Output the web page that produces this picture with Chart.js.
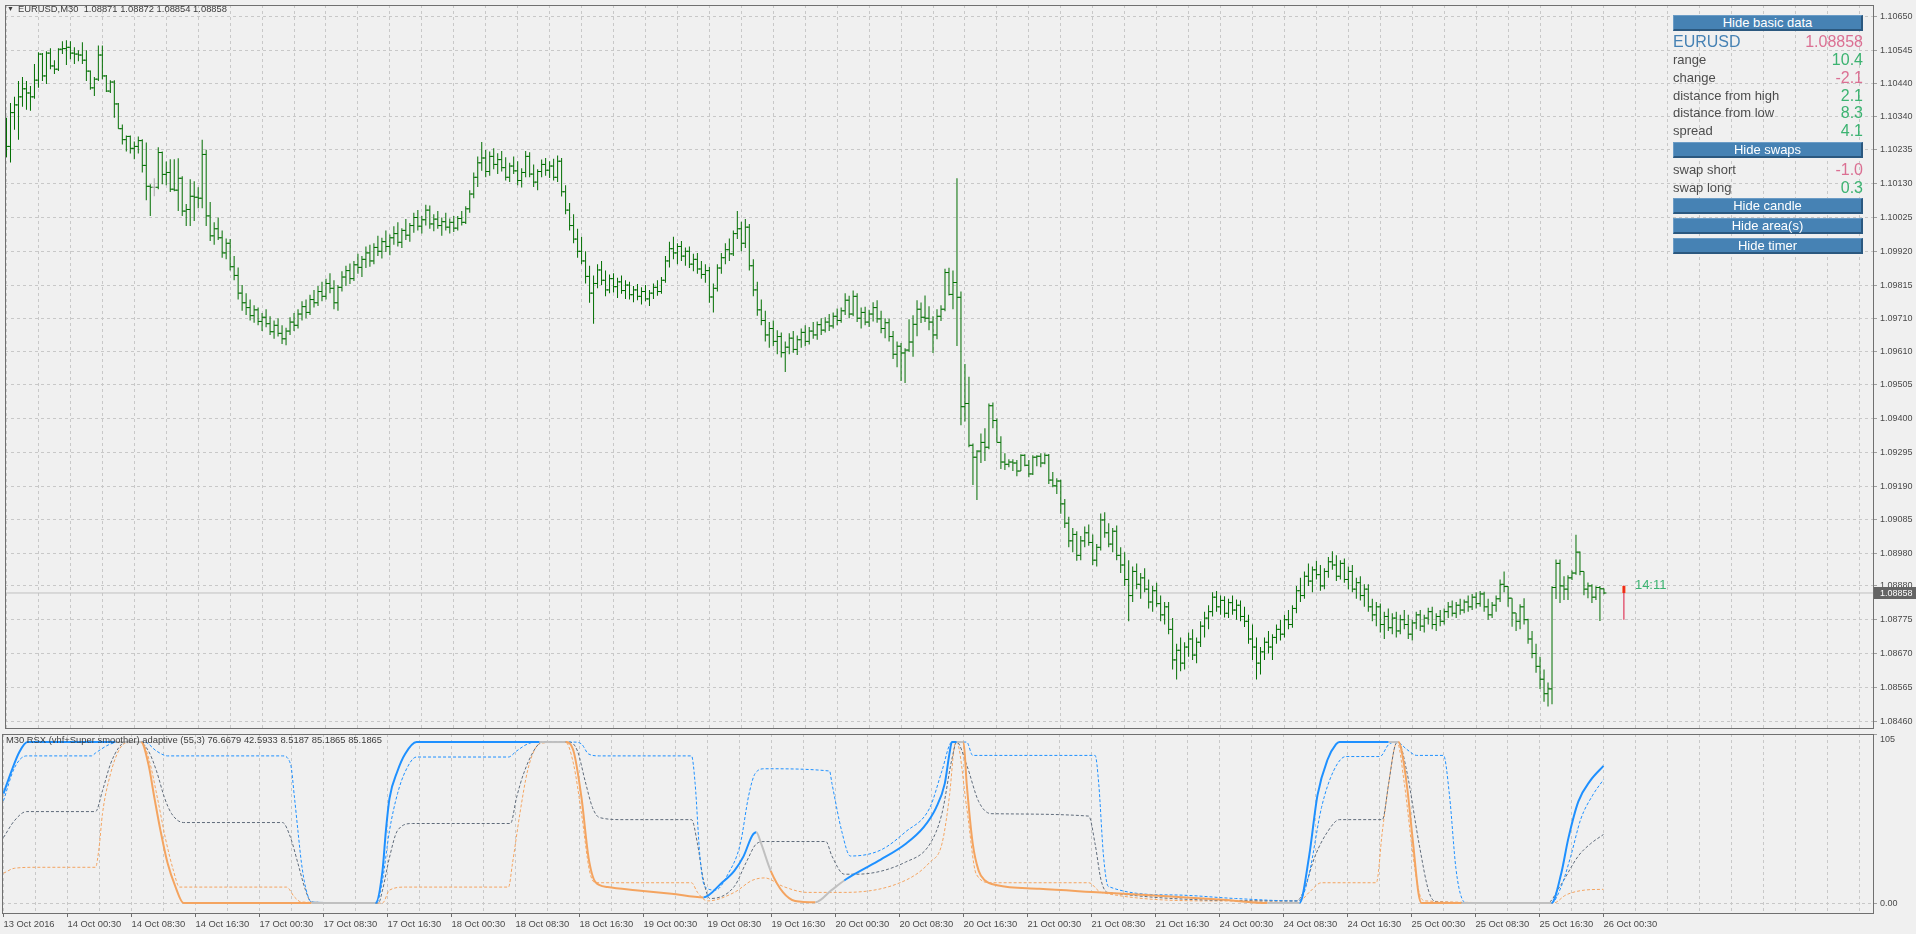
<!DOCTYPE html>
<html>
<head>
<meta charset="utf-8">
<title>EURUSD,M30</title>
<script src="https://cdn.jsdelivr.net/npm/chart.js"></script>
<style>
  html, body { margin: 0; padding: 0; background: #f0f0f0; overflow: hidden; }
  #chart-window { position: relative; width: 1916px; height: 934px; background: #f0f0f0; font-family: 'Liberation Sans', Arial, sans-serif; }
  #price-chart-id { position: absolute; left: 0; top: 0; }
  #rsx-chart-id { position: absolute; left: 0; top: 733px; }
  .chart-caption { position: absolute; font-size: 9.4px; line-height: 11px; color: #3c3c3c; white-space: pre; }
  .mt-btn { position: absolute; left: 1673px; width: 190px; height: 16px; box-sizing: border-box; background: #4682b4;
            border-top: 1px solid #6b9cc6; border-left: 1px solid #6b9cc6; border-right: 2px solid #2b587f; border-bottom: 2px solid #2b587f;
            color: #fff; font-size: 13px; line-height: 13px; text-align: center; }
  .mt-row { position: absolute; left: 1673px; width: 190px; height: 18px; line-height: 18px; font-size: 13px; color: #4d4d4d; }
  .mt-row .mt-val { position: absolute; right: 0; top: 0; font-size: 16px; }
  .mt-symbol { font-size: 16px; color: #4682b4; }
  .mt-symbol .mt-val { font-size: 16px; }
  .green { color: #3cb371; }
  .pink { color: #db7093; }
</style>
</head>
<body>
<div id="chart-window">
  <canvas id="price-chart-id" width="1916" height="733"></canvas>
  <canvas id="rsx-chart-id" width="1916" height="201"></canvas>

  <div class="chart-caption" style="left:7px; top:3px; font-size:7px;">▼</div>
  <div class="chart-caption" style="left:18px; top:3px;">EURUSD,M30  1.08871 1.08872 1.08854 1.08858</div>
  <div class="chart-caption" style="left:6px; top:734px;">M30 RSX (vhf+Super smoother) adaptive (55,3) 76.6679 42.5933 8.5187 85.1865 85.1865</div>

  <div class="mt-btn" style="top:15px">Hide basic data</div>
  <div class="mt-row mt-symbol" style="top:33px">EURUSD<span class="mt-val pink">1.08858</span></div>
  <div class="mt-row" style="top:51px">range<span class="mt-val green">10.4</span></div>
  <div class="mt-row" style="top:69px">change<span class="mt-val pink">-2.1</span></div>
  <div class="mt-row" style="top:87px">distance from high<span class="mt-val green">2.1</span></div>
  <div class="mt-row" style="top:104px">distance from low<span class="mt-val green">8.3</span></div>
  <div class="mt-row" style="top:122px">spread<span class="mt-val green">4.1</span></div>
  <div class="mt-btn" style="top:142px">Hide swaps</div>
  <div class="mt-row" style="top:161px">swap short<span class="mt-val pink">-1.0</span></div>
  <div class="mt-row" style="top:179px">swap long<span class="mt-val green">0.3</span></div>
  <div class="mt-btn" style="top:198px">Hide candle</div>
  <div class="mt-btn" style="top:218px">Hide area(s)</div>
  <div class="mt-btn" style="top:238px">Hide timer</div>
</div>

<script>
// ===================== PRICE DATA =====================
// M30 bars, prices in points (0.00001) above BASE
const BASE = 1.08;

const barOpen = [
  2290,2246,2351,2375,2400,2425,2412,2400,2452,2533,
  2465,2536,2496,2486,2548,2550,2554,2536,2533,2530,
  2514,2480,2428,2455,2530,2465,2418,2446,2378,2301,
  2267,2277,2240,2246,2264,2187,2122,2119,2119,2227,
  2159,2165,2113,2110,2147,2045,2050,2091,2088,2085,
  2221,2030,1968,1990,1962,1915,1945,1872,1845,1790,
  1760,1745,1720,1738,1702,1715,1695,1670,1690,1665,
  1648,1672,1700,1690,1725,1748,1730,1770,1760,1795,
  1780,1820,1805,1760,1808,1840,1860,1835,1878,1870,
  1895,1915,1890,1932,1920,1950,1935,1962,1975,1948,
  1985,1970,2000,2025,1998,2018,2048,2005,2020,2000,
  2012,1995,2010,1992,2022,2010,2052,2098,2150,2195,
  2210,2168,2215,2190,2205,2180,2150,2185,2170,2140,
  2165,2215,2160,2135,2168,2190,2172,2185,2150,2200,
  2105,2048,2000,1958,1920,1890,1842,1790,1820,1862,
  1830,1800,1835,1810,1825,1798,1815,1785,1800,1780,
  1795,1772,1790,1808,1795,1830,1890,1928,1915,1935,
  1905,1920,1880,1895,1865,1848,1860,1778,1805,1868,
  1900,1925,1912,1975,1990,1945,1995,1875,1800,1738,
  1705,1660,1680,1640,1655,1605,1622,1650,1615,1645,
  1668,1640,1672,1660,1692,1675,1700,1688,1718,1705,
  1735,1768,1725,1780,1712,1730,1700,1725,1745,1710,
  1680,1698,1655,1600,1625,1604,1613,1638,1693,1740,
  1715,1712,1700,1660,1718,1740,1854,1786,1823,1777,
  1437,1447,1317,1280,1299,1326,1311,1440,1394,1326,
  1265,1258,1265,1262,1237,1286,1255,1228,1280,1283,
  1262,1286,1209,1191,1206,1135,1075,1020,1040,975,
  1020,1045,1015,960,1000,1085,1045,1010,1050,975,
  945,900,850,925,885,905,870,830,865,825,
  790,815,745,650,680,640,690,715,665,705,
  755,780,800,845,815,835,795,828,805,820,
  785,770,715,690,640,675,705,690,720,745,
  730,775,760,810,865,850,910,895,930,915,
  880,925,955,945,910,950,900,925,870,890,
  850,870,815,790,815,760,785,750,780,740,
  775,760,730,765,790,755,780,800,760,785,
  770,800,815,795,820,805,830,815,845,825,
  855,815,790,820,840,885,878,842,796,770,
  815,775,715,670,630,590,545,560,875,950,
  880,870,905,920,985,925,870,880,845,875,
  871
];

const barHigh = [
  2335,2381,2400,2449,2462,2449,2434,2502,2539,2536,
  2542,2551,2514,2551,2573,2576,2573,2554,2545,2570,
  2545,2482,2462,2560,2560,2468,2452,2452,2381,2314,
  2280,2280,2261,2277,2268,2258,2128,2147,2243,2230,
  2199,2206,2206,2209,2153,2067,2144,2138,2119,2267,
  2236,2073,2010,2025,1985,1960,1958,1905,1870,1815,
  1790,1770,1752,1745,1728,1740,1718,1705,1712,1690,
  1682,1715,1728,1740,1765,1770,1785,1800,1812,1825,
  1835,1852,1830,1815,1858,1875,1882,1890,1912,1905,
  1935,1940,1945,1968,1962,1985,1972,1998,2010,1992,
  2020,2008,2040,2048,2030,2065,2062,2035,2045,2025,
  2040,2022,2030,2030,2045,2060,2110,2165,2215,2260,
  2235,2230,2240,2225,2232,2212,2195,2215,2200,2178,
  2232,2228,2190,2175,2205,2210,2200,2208,2218,2210,
  2125,2070,2035,1990,1965,1920,1875,1845,1880,1890,
  1860,1848,1852,1838,1845,1830,1825,1812,1818,1808,
  1815,1800,1820,1830,1840,1905,1950,1965,1945,1952,
  1932,1935,1912,1915,1890,1880,1872,1820,1880,1915,
  1945,1960,1985,2045,2012,2020,2005,1895,1825,1770,
  1735,1700,1705,1675,1668,1640,1665,1672,1658,1680,
  1690,1685,1700,1702,1712,1715,1725,1730,1742,1745,
  1790,1782,1798,1790,1745,1748,1738,1762,1768,1735,
  1712,1710,1672,1640,1635,1619,1709,1721,1768,1761,
  1783,1749,1718,1740,1752,1866,1869,1860,2147,1795,
  1570,1530,1323,1302,1354,1370,1447,1450,1400,1345,
  1292,1274,1274,1271,1289,1289,1271,1286,1286,1292,
  1292,1290,1234,1215,1210,1150,1095,1060,1050,1035,
  1065,1071,1040,1010,1105,1109,1075,1060,1068,1000,
  985,960,940,950,920,935,900,880,890,850,
  830,830,780,700,720,705,735,745,720,770,
  800,820,860,864,850,848,840,850,838,835,
  815,790,760,720,690,720,740,730,760,775,
  790,805,820,880,905,925,950,940,958,945,
  935,970,988,975,960,965,940,945,905,910,
  885,885,840,830,825,800,810,795,800,790,
  805,790,775,800,805,790,812,815,795,805,
  810,830,835,830,840,838,850,855,860,864,
  862,840,830,850,900,925,879,842,796,823,
  842,778,740,700,660,620,580,879,962,962,
  910,913,928,1039,987,925,891,885,879,880,
  872
];

const barLow = [
  2212,2196,2298,2267,2369,2360,2357,2394,2428,2449,
  2440,2486,2471,2480,2533,2499,2517,2502,2511,2502,
  2449,2422,2403,2449,2455,2415,2412,2335,2301,2252,
  2230,2224,2206,2224,2165,2079,2030,2091,2113,2128,
  2125,2104,2107,2045,2030,1999,1999,2014,2054,2054,
  1999,1952,1940,1955,1900,1895,1860,1830,1770,1735,
  1722,1705,1698,1690,1672,1684,1660,1648,1655,1632,
  1628,1660,1672,1680,1705,1712,1722,1745,1750,1765,
  1770,1790,1740,1735,1795,1812,1818,1828,1850,1840,
  1868,1872,1880,1905,1898,1918,1908,1940,1935,1930,
  1955,1950,1978,1985,1975,2000,1990,1982,1990,1968,
  1985,1975,1980,1985,2000,2005,2040,2085,2120,2170,
  2150,2155,2175,2160,2168,2140,2135,2160,2125,2118,
  2150,2150,2120,2110,2150,2155,2148,2140,2135,2090,
  2035,1985,1945,1900,1880,1820,1760,1695,1805,1815,
  1780,1790,1792,1775,1788,1772,1770,1762,1768,1755,
  1765,1750,1772,1782,1788,1822,1870,1895,1880,1890,
  1875,1868,1858,1850,1835,1822,1760,1730,1795,1850,
  1880,1890,1905,1958,1920,1930,1860,1780,1720,1690,
  1640,1620,1625,1600,1590,1545,1600,1605,1598,1620,
  1625,1630,1648,1645,1660,1668,1672,1680,1690,1698,
  1722,1712,1718,1700,1680,1690,1685,1702,1698,1665,
  1650,1640,1585,1560,1517,1511,1607,1592,1656,1697,
  1700,1675,1604,1647,1703,1734,1783,1740,1626,1379,
  1391,1311,1194,1147,1262,1268,1305,1370,1326,1243,
  1240,1249,1237,1221,1237,1252,1218,1225,1252,1249,
  1258,1197,1187,1166,1104,1060,1000,985,958,960,
  1000,1005,945,940,990,1030,1000,985,960,920,
  880,770,830,870,840,860,810,800,815,770,
  760,730,620,589,615,620,660,650,640,690,
  720,745,785,800,790,782,780,790,775,770,
  752,700,650,589,605,650,670,650,700,710,
  720,745,750,795,830,840,880,860,900,865,
  870,905,930,895,900,890,870,860,840,835,
  815,800,770,755,735,715,740,730,720,730,
  745,715,710,745,740,735,760,745,740,755,
  760,780,785,780,790,795,800,805,810,815,
  800,775,780,800,830,860,815,753,740,745,
  760,700,655,610,560,520,505,512,839,827,
  836,836,898,915,913,851,842,827,836,771,
  854
];

const barClose = [
  2246,2351,2375,2400,2425,2412,2400,2452,2533,2465,
  2536,2496,2486,2548,2550,2554,2536,2533,2530,2514,
  2480,2428,2455,2530,2465,2418,2446,2378,2301,2267,
  2277,2240,2246,2264,2187,2122,2119,2119,2227,2159,
  2165,2113,2110,2147,2045,2050,2091,2088,2085,2221,
  2030,1968,1990,1962,1915,1945,1872,1845,1790,1760,
  1745,1720,1738,1702,1715,1695,1670,1690,1665,1648,
  1672,1700,1690,1725,1748,1730,1770,1760,1795,1780,
  1820,1805,1760,1808,1840,1860,1835,1878,1870,1895,
  1915,1890,1932,1920,1950,1935,1962,1975,1948,1985,
  1970,2000,2025,1998,2018,2048,2005,2020,2000,2012,
  1995,2010,1992,2022,2010,2052,2098,2150,2195,2210,
  2168,2215,2190,2205,2180,2150,2185,2170,2140,2165,
  2215,2160,2135,2168,2190,2172,2185,2150,2200,2105,
  2048,2000,1958,1920,1890,1842,1790,1820,1862,1830,
  1800,1835,1810,1825,1798,1815,1785,1800,1780,1795,
  1772,1790,1808,1795,1830,1890,1928,1915,1935,1905,
  1920,1880,1895,1865,1848,1860,1778,1805,1868,1900,
  1925,1912,1975,1990,1945,1995,1875,1800,1738,1705,
  1660,1680,1640,1655,1605,1622,1650,1615,1645,1668,
  1640,1672,1660,1692,1675,1700,1688,1718,1705,1735,
  1768,1725,1780,1712,1730,1700,1725,1745,1710,1680,
  1698,1655,1600,1625,1604,1613,1638,1693,1740,1715,
  1712,1700,1660,1718,1740,1854,1786,1823,1777,1437,
  1447,1317,1280,1299,1326,1311,1440,1394,1326,1265,
  1258,1265,1262,1237,1286,1255,1228,1280,1283,1262,
  1286,1209,1191,1206,1135,1075,1020,1040,975,1020,
  1045,1015,960,1000,1085,1045,1010,1050,975,945,
  900,850,925,885,905,870,830,865,825,790,
  815,745,650,680,640,690,715,665,705,755,
  780,800,845,815,835,795,828,805,820,785,
  770,715,690,640,675,705,690,720,745,730,
  775,760,810,865,850,910,895,930,915,880,
  925,955,945,910,950,900,925,870,890,850,
  870,815,790,815,760,785,750,780,740,775,
  760,730,765,790,755,780,800,760,785,770,
  800,815,795,820,805,830,815,845,825,855,
  815,790,820,840,885,878,842,796,770,815,
  775,715,670,630,590,545,560,875,950,880,
  870,905,920,985,925,870,880,845,875,871,
  858
];

// axis labels
const priceTicks = ['1.10650','1.10545','1.10440','1.10340','1.10235','1.10130','1.10025','1.09920','1.09815','1.09710','1.09610',
                    '1.09505','1.09400','1.09295','1.09190','1.09085','1.08980','1.08880','1.08775','1.08670','1.08565','1.08460'];
const timeLabels = ['13 Oct 2016','14 Oct 00:30','14 Oct 08:30','14 Oct 16:30','17 Oct 00:30','17 Oct 08:30','17 Oct 16:30',
                    '18 Oct 00:30','18 Oct 08:30','18 Oct 16:30','19 Oct 00:30','19 Oct 08:30','19 Oct 16:30','20 Oct 00:30',
                    '20 Oct 08:30','20 Oct 16:30','21 Oct 00:30','21 Oct 08:30','21 Oct 16:30','24 Oct 00:30','24 Oct 08:30',
                    '24 Oct 16:30','25 Oct 00:30','25 Oct 08:30','25 Oct 16:30','26 Oct 00:30'];
const barsPerLabel = 16;
const barsPerGrid = 8;

// bid line + H1 candle drawn right of the last bar
const bidPrice = 1.08858;
const candleX = 405;
const candleOpen = 1.08880, candleHigh = 1.08881, candleLow = 1.08775, candleClose = 1.08858;
const timerText = '14:11';

// visible price window
const priceMin = 1.084384;
const priceMax = 1.106855;

// ===================== RSX INDICATOR DATA =====================
// main line knots (bar index, value) and colour state of the segment that starts at each knot
const rsxX = [0,2,4,6,28,34.4,36.25,37.75,39.25,41,43,45,77,93,94.75,95.6,96.5,98.5,100.4,103.25,134,140.5,
  142.5,144.5,146.25,148,151,158,167,175,179.6,182.7,185,187.2,188.2,189.4,191.8,194.9,197.9,203,207,210.2,
  213.2,219.3,225.5,230,233.1,235.3,236.5,237.1,238.3,240,240.8,242.3,243.8,245.4,248.4,259,274.4,289.7,305,
  316,324,326.4,328.5,331,333.1,334,346.3,348.7,349.3,350.8,352.4,353.75,354.5,364.5,387,389.4,391.2,393.7,396.7,400];
const rsxV = [68,82,94,100,100,100,86,65,45,25,10,0,0,0,20,45,65,82,92.6,100,100,100,
  94.4,65.4,28.4,13,10,8,5.8,3.5,12.6,20,29,42,44,37,20,6.6,1.3,0.5,8,14,
  18.6,27,36.7,47,59,74,93,100,100,100,74,37,20,14,11,8.8,6.6,4.3,2,
  0,0,29,67,89,98.5,100,100,100,97,74,37,6,0,0,0,18,40,63,76,85.1865];
const rsxState = ('bbbbgooooooog' + 'bbbbbbbg' + 'oooooooo' + 'bbbbb' + 'gg' + 'ooo' + 'gg' + 'bbbbbbbbb' +
  'g' + 'oooooooooo' + 'g' + 'bbbbbb' + 'g' + 'oooooo' + 'g' + 'bbbbbb').split('');

// adaptive levels
const upperX = [0,2.75,5.75,22,23,26.75,29.5,35.25,38.25,41,69.75,71.75,72.75,73.6,74.5,75.5,77,93.25,94.75,96.5,98.5,
  100.5,103.25,126.25,128.25,131,133,142.5,144.5,146.25,149,172,172.9,174.1,175.3,178,181.1,184.2,186.3,187.9,190.3,
  206.5,207.1,209.6,211.7,219.3,225.5,231.6,234.6,237.1,240.8,242.3,272.9,273.8,275,276.2,292.7,308,323.3,324.5,
  326.4,329.5,332.5,335.6,344.1,346.3,348.4,350.8,353.3,360,361.5,363.1,364.6,366,387,389.4,391.8,394.3,397.3,400];
const upperV = [63.6,84,91.4,91.4,93.2,98.8,100,100,94.4,91.4,91.4,86.4,65.4,45,24.7,9.9,0.6,0,14.2,45,67.9,
  82,90.7,90.7,94.4,98.8,100,100,98.8,92.6,91.4,91.4,74.4,29.2,10.3,8,17.9,36.7,66.8,80.4,83.4,
  82,74.4,44.2,29.2,32.9,44.2,59.3,82,100,100,91.7,91.7,74.4,29.2,10.3,5,2.8,1.3,2.8,
  17.9,59.3,82,91,91,98.5,100,95.5,91.7,91.7,66.8,21.6,2.8,0,0,10,29,52,67,76.6679];

const middleX = [0,2.75,5.75,23,24.75,26.75,28.75,30.5,34,36.25,38.25,40.25,42,45,69.75,71.75,73.6,75.5,77,93.75,94.75,
  96.5,98.5,102.25,126.75,128.25,130,133,134.75,141.5,143.5,145.4,147.25,149,155,172,173.5,175,176.6,182.7,185.7,
  188.2,190.3,205.6,207.1,210.2,213.2,225.5,231.6,234.6,237.1,238.3,240.8,243.8,246.9,271.3,272.9,274.4,276,323.3,
  324.9,327.9,331,334,344.7,346.3,347.8,348.7,350.8,353.9,356.4,358.5,386,389.1,393.7,396.7,400];
const middleV = [40.7,51.2,56.8,56.8,69.8,86.4,96.3,100,100,94.4,82,65.4,55.6,50,50,40.7,24.7,8,0.6,0,8,
  28.4,45,49.4,49.4,65.4,80.2,96.3,100,100,94.4,75.9,59.3,53.1,51.8,51.8,36.7,14.1,2.8,10.3,25.4,
  36.7,38.2,38.2,29.2,17.9,17.9,25.4,36.7,55.5,89.4,100,85.7,63,55.5,54,36.7,14.1,6.6,1.3,
  6.6,29.2,44.2,51.8,51.8,74.4,97,100,82,36.7,6.6,0.5,0,10.3,29.2,36.7,42.5933];

const lowerX = [0,2.75,8.5,23,23.9,24.75,26.75,28.75,30.5,34.5,36.5,38.5,40.5,42.5,44,70.75,72.75,74.5,94.75,96.5,100.5,
  126.25,127.25,129.1,131,133,134.75,140.5,142.5,144.5,146.5,148,172,173.5,176,182.7,187.2,190.3,194.9,201,210.2,
  225.5,231.6,234.6,236.5,237.7,238.3,240.8,243.2,246.9,271.3,274.4,305,324,326.4,329.5,343.2,344.7,346.3,347.8,
  348.4,350.2,352.4,353.9,355.4,387.5,390.6,395.2,400];
const lowerV = [18.5,21.6,22.2,22.2,34.6,55.6,80.2,94.4,99.4,100,88,65,40,20,9.9,9.9,3.7,0.6,0,8,9.9,
  9.9,24.7,55.6,82,96.3,99.4,100,86.4,55.6,20,12.6,12.6,6.6,1.3,6.6,14.1,15.6,10.3,6.6,6.6,
  14.1,25.4,36.7,66.8,97,100,59.3,17.9,12.6,12.6,6.6,1.3,1.3,6.6,12.6,12.6,44.2,74.4,97,
  100,74.4,29.2,6.6,1.3,0,5,8,8.5187];

const rsxTickValues = [0, 105];
const rsxTickLabels = ['0.00', '105'];
const rsxMin = -6.2;
const rsxMax = 105;


function initEurusdChart() {

Chart.defaults.font.family = "'Liberation Sans', Arial, sans-serif";
Chart.defaults.font.size = 9;

const toPrice = p => BASE + p / 100000;
const gridBars = [];
for (let i = 0; i <= 464; i += barsPerGrid) gridBars.push(i);
const xMin = -0.375;            // puts every bar on a whole pixel column
const xMax = xMin + 1871 / 4;   // 4 px per bar

const barColors = barOpen.map((o, i) => (o === barClose[i] ? '#a9a9a9' : '#006e00'));
const rsxColors = { b: '#1e90ff', o: '#f4a460', g: '#c0c0c0' };

// frame round each panel
const panelFrame = {
  id: 'panelFrame',
  afterDraw(chart) {
    const { ctx, chartArea: a } = chart;
    ctx.save();
    ctx.strokeStyle = '#707070';
    ctx.lineWidth = 1;
    ctx.strokeRect(a.left + 0.5, a.top + 0.5, a.right - a.left, a.bottom - a.top);
    ctx.restore();
  }
};

// bid price box on the axis + timer text next to the candle
const bidMarker = {
  id: 'bidMarker',
  afterDraw(chart) {
    const { ctx, chartArea: a, scales: { x, y } } = chart;
    const py = Math.round(y.getPixelForValue(bidPrice));
    ctx.save();
    ctx.fillStyle = '#646464';
    ctx.fillRect(a.right + 1, py - 6, 42, 12);
    ctx.fillStyle = '#ffffff';
    ctx.font = "9px 'Liberation Sans'";
    ctx.textBaseline = 'middle';
    ctx.fillText(bidPrice.toFixed(5), a.right + 7, py + 0.5);
    ctx.fillStyle = '#3cb371';
    ctx.font = "13px 'Liberation Sans'";
    ctx.fillText(timerText, x.getPixelForValue(candleX) + 11, y.getPixelForValue(candleHigh));
    ctx.restore();
  }
};

const zeroPadding = s => { s.paddingTop = 0; s.paddingBottom = 0; s.paddingLeft = 0; s.paddingRight = 0; };

// ===================== PRICE PANEL =====================
const priceCtx = document.getElementById('price-chart-id');
if (priceCtx) {
  new Chart(priceCtx, {
    type: 'scatter',
    data: {
      datasets: [
        {
          type: 'bar',
          data: barHigh.map((h, i) => ({ x: i, y: [toPrice(barLow[i]), toPrice(h)] })),
          backgroundColor: barColors,
          barThickness: 1,
          grouped: false,
          inflateAmount: 0,
          order: 1
        },
        {
          // open ticks (left)
          type: 'scatter',
          data: barOpen.map((o, i) => ({ x: i, y: toPrice(o) })),
          pointStyle: 'dash',
          pointRadius: 2.5,
          pointRotation: 180,
          pointBorderWidth: 1,
          pointBorderColor: barColors,
          pointBackgroundColor: barColors,
          order: 1
        },
        {
          // close ticks (right)
          type: 'scatter',
          data: barClose.map((c, i) => ({ x: i, y: toPrice(c) })),
          pointStyle: 'dash',
          pointRadius: 2.5,
          pointBorderWidth: 1,
          pointBorderColor: barColors,
          pointBackgroundColor: barColors,
          order: 1
        },
        {
          type: 'line',
          data: [{ x: xMin, y: bidPrice }, { x: xMax, y: bidPrice }],
          borderColor: '#c0c0c0',
          borderWidth: 1,
          pointRadius: 0,
          order: 5
        },
        {
          type: 'bar',
          data: [{ x: candleX, y: [candleLow, candleHigh] }],
          backgroundColor: '#dc143c',
          barThickness: 1,
          grouped: false,
          inflateAmount: 0,
          order: 0
        },
        {
          type: 'bar',
          data: [{ x: candleX, y: [candleClose, candleOpen] }],
          backgroundColor: '#ff4500',
          barThickness: 3,
          grouped: false,
          inflateAmount: 0,
          order: 0
        }
      ]
    },
    options: {
      responsive: false,
      animation: false,
      devicePixelRatio: 1,
      events: [],
      layout: { padding: { left: 2, top: 2, right: 0, bottom: 2 } },
      plugins: { legend: { display: false }, tooltip: { enabled: false } },
      scales: {
        x: {
          type: 'linear',
          min: xMin,
          max: xMax,
          offset: false,
          afterBuildTicks: s => { s.ticks = gridBars.map(v => ({ value: v })); },
          afterFit: s => { s.height = 0; zeroPadding(s); },
          ticks: { display: false },
          grid: { color: '#c8c8c8', drawTicks: false, offset: false },
          border: { display: false, dash: [3, 3] }
        },
        y: {
          type: 'linear',
          position: 'right',
          min: priceMin,
          max: priceMax,
          afterBuildTicks: s => { s.ticks = priceTicks.map(t => ({ value: parseFloat(t) })); },
          afterFit: s => { s.width = 43; zeroPadding(s); },
          ticks: { callback: v => v.toFixed(5), color: '#4a4a4a', padding: 3, font: { size: 9 } },
          grid: { color: '#c8c8c8', tickLength: 4, tickColor: '#a0a0a0' },
          border: { display: false, dash: [3, 3] }
        }
      }
    },
    plugins: [panelFrame, bidMarker]
  });
}

// ===================== RSX PANEL =====================
const levelLine = (xs, vs, color) => ({
  data: xs.map((x, i) => ({ x, y: vs[i] })),
  borderColor: color,
  borderWidth: 1,
  borderDash: [3, 2],
  pointRadius: 0,
  cubicInterpolationMode: 'monotone',
  order: 2
});

const rsxCtx = document.getElementById('rsx-chart-id');
if (rsxCtx) {
  new Chart(rsxCtx, {
    type: 'line',
    data: {
      datasets: [
        levelLine(upperX, upperV, '#1e90ff'),
        levelLine(middleX, middleV, '#5f6b7a'),
        levelLine(lowerX, lowerV, '#f4a460'),
        {
          data: rsxX.map((x, i) => ({ x, y: rsxV[i] })),
          borderWidth: 2,
          borderColor: rsxColors.b,
          segment: { borderColor: c => rsxColors[rsxState[c.p0DataIndex]] },
          pointRadius: 0,
          cubicInterpolationMode: 'monotone',
          order: 0
        }
      ]
    },
    options: {
      responsive: false,
      animation: false,
      devicePixelRatio: 1,
      events: [],
      layout: { padding: { left: 2, top: 1, right: 0, bottom: 0 } },
      plugins: { legend: { display: false }, tooltip: { enabled: false } },
      scales: {
        x: {
          type: 'linear',
          min: xMin,
          max: xMax,
          offset: false,
          afterBuildTicks: s => { s.ticks = gridBars.map(v => ({ value: v })); },
          afterFit: s => { s.height = 21; zeroPadding(s); },
          ticks: {
            autoSkip: false,
            maxRotation: 0,
            align: 'start',
            padding: 2,
            color: '#4a4a4a',
            font: { size: 9.4 },
            callback: v => (v % barsPerLabel === 0 && timeLabels[v / barsPerLabel]) ? timeLabels[v / barsPerLabel] : ''
          },
          grid: {
            color: '#c8c8c8',
            offset: false,
            tickLength: 4,
            tickColor: c => (c.tick && c.tick.value % barsPerLabel === 0 && timeLabels[c.tick.value / barsPerLabel]) ? '#6e6e6e' : 'rgba(0,0,0,0)'
          },
          border: { display: false, dash: [3, 3] }
        },
        y: {
          type: 'linear',
          position: 'right',
          min: rsxMin,
          max: rsxMax,
          afterBuildTicks: s => { s.ticks = rsxTickValues.map(v => ({ value: v })); },
          afterFit: s => { s.width = 43; zeroPadding(s); },
          ticks: {
            color: '#4a4a4a',
            padding: 3,
            font: { size: 9 },
            callback: (v, i) => (v === rsxMax ? ['', rsxTickLabels[i]] : rsxTickLabels[i])
          },
          grid: {
            color: c => (c.tick && c.tick.value === 0 ? '#c8c8c8' : 'rgba(0,0,0,0)'),
            tickLength: 4,
            tickColor: '#a0a0a0'
          },
          border: { display: false, dash: [3, 3] }
        }
      }
    },
    plugins: [panelFrame]
  });
}

}

document.addEventListener('DOMContentLoaded', initEurusdChart);
</script>
</body>
</html>
